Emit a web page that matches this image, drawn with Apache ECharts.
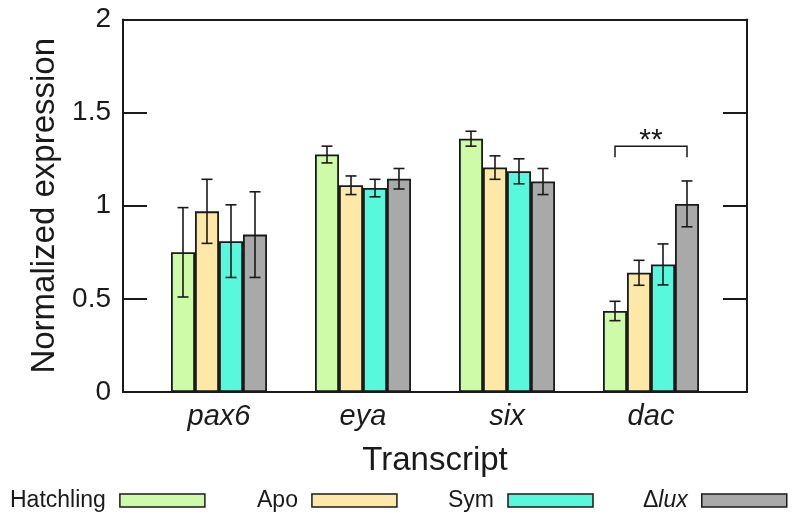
<!DOCTYPE html>
<html><head><meta charset="utf-8">
<script src="https://cdn.jsdelivr.net/npm/echarts@6/dist/echarts.min.js"></script>
<style>html,body{margin:0;padding:0;background:#fff}#c{width:800px;height:522px}</style>
</head><body><div id="c"></div>
<script>
// ---- data ----
const categories = ['pax6', 'eya', 'six', 'dac'];
const seriesNames = ['Hatchling', 'Apo', 'Sym', 'Δlux'];
const hatchling    = [0.75, 1.275, 1.36, 0.435];
const hatchlingErr = [0.24, 0.045, 0.04, 0.052];
const apo          = [0.97, 1.11, 1.205, 0.64];
const apoErr       = [0.172, 0.05, 0.063, 0.067];
const sym          = [0.81, 1.095, 1.185, 0.685];
const symErr       = [0.195, 0.047, 0.067, 0.11];
const dlux         = [0.845, 1.145, 1.13, 1.01];
const dluxErr      = [0.23, 0.055, 0.07, 0.123];
const yTicks = [0, 0.5, 1, 1.5, 2];
const sigCategory = 3;
const sigFromSeries = 0, sigToSeries = 3;
const sigTop = 1.32, sigDrop = 1.26;
const sigLabel = '**';

// ---- style ----
const FONT = '"Liberation Sans", Arial, Helvetica, sans-serif';
const colors = ['#cdfba8', '#fde8a7', '#57f8db', '#a9a9a9'];
const INK = '#1a1a1a';
const BAR_W = 24;
const values = [hatchling, apo, sym, dlux];
const errs = [hatchlingErr, apoErr, symErr, dluxErr];
const legendLeft = [10, 257, 448, 643];

const barSeries = seriesNames.map((n, k) => ({
  name: n, type: 'bar', xAxisIndex: 2, yAxisIndex: 2,
  barWidth: BAR_W, barGap: '0%',
  itemStyle: { color: colors[k], borderColor: INK, borderWidth: 1.8 },
  data: values[k], z: 2
}));

function errRender(k) {
  return function (params, api) {
    const c = api.value(0);
    const lo = api.coord([c, api.value(1)]);
    const hi = api.coord([c, api.value(2)]);
    const cx = lo[0] + (k - 1.5) * BAR_W;
    const cap = 5.5;
    const st = { stroke: INK, lineWidth: 1.6 };
    return { type: 'group', children: [
      { type: 'line', shape: { x1: cx, y1: hi[1], x2: cx, y2: lo[1] }, style: st },
      { type: 'line', shape: { x1: cx - cap, y1: hi[1], x2: cx + cap, y2: hi[1] }, style: st },
      { type: 'line', shape: { x1: cx - cap, y1: lo[1], x2: cx + cap, y2: lo[1] }, style: st }
    ]};
  };
}
const errSeries = seriesNames.map((n, k) => ({
  type: 'custom', xAxisIndex: 2, yAxisIndex: 2, z: 5,
  renderItem: errRender(k),
  data: categories.map((_, i) => [i, values[k][i] - errs[k][i], values[k][i] + errs[k][i]])
}));

const sigSeries = {
  type: 'custom', xAxisIndex: 2, yAxisIndex: 2, z: 6,
  renderItem: function (params, api) {
    const c = api.value(0);
    const top = api.coord([c, api.value(1)]);
    const drop = api.coord([c, api.value(2)]);
    const x1 = top[0] + (sigFromSeries - 1.5) * BAR_W;
    const x2 = top[0] + (sigToSeries - 1.5) * BAR_W;
    return { type: 'group', children: [
      { type: 'polyline', shape: { points: [[x1, drop[1]], [x1, top[1]], [x2, top[1]], [x2, drop[1]]] },
        style: { stroke: INK, lineWidth: 1.5, fill: null } },
      { type: 'text', x: (x1 + x2) / 2, y: top[1] + 10,
        style: { text: sigLabel, fontSize: 30, fontFamily: FONT, fill: INK, align: 'center', verticalAlign: 'bottom' } }
    ]};
  },
  data: [[sigCategory, sigTop, sigDrop]]
};

const frameLine = { show: true, onZero: false, lineStyle: { color: INK, width: 2 } };

const option = {
  animation: false,
  backgroundColor: '#fff',
  textStyle: { fontFamily: FONT },
  grid: [
    { left: 123, right: 53, top: 19.5, bottom: 130 },
    { left: 147, right: 77, top: 19.5, bottom: 130 }
  ],
  xAxis: [
    { gridIndex: 0, type: 'value', min: 0, max: 1, position: 'bottom',
      axisLine: frameLine, axisTick: { show: false }, axisLabel: { show: false }, splitLine: { show: false },
      name: 'Transcript', nameLocation: 'middle', nameGap: 52,
      nameTextStyle: { fontSize: 33, color: INK, fontFamily: FONT } },
    { gridIndex: 0, type: 'value', min: 0, max: 1, position: 'top',
      axisLine: frameLine, axisTick: { show: false }, axisLabel: { show: false }, splitLine: { show: false } },
    { gridIndex: 1, type: 'category', data: categories,
      axisLine: { show: false }, axisTick: { show: false }, splitLine: { show: false },
      axisLabel: { fontSize: 29, fontStyle: 'italic', color: INK, margin: 10, fontFamily: FONT } }
  ],
  yAxis: [
    { gridIndex: 0, type: 'value', min: yTicks[0], max: yTicks[yTicks.length - 1], interval: yTicks[1] - yTicks[0],
      position: 'left', axisLine: frameLine,
      axisTick: { show: true, inside: true, length: 24, lineStyle: { color: INK, width: 2 } },
      axisLabel: { fontSize: 28, color: INK, margin: 12, fontFamily: FONT },
      splitLine: { show: false },
      name: 'Normalized expression', nameLocation: 'middle', nameGap: 62,
      nameTextStyle: { fontSize: 33, color: INK, fontFamily: FONT } },
    { gridIndex: 0, type: 'value', min: yTicks[0], max: yTicks[yTicks.length - 1], interval: yTicks[1] - yTicks[0],
      position: 'right', axisLine: frameLine,
      axisTick: { show: true, inside: true, length: 24, lineStyle: { color: INK, width: 2 } },
      axisLabel: { show: false }, splitLine: { show: false } },
    { gridIndex: 1, type: 'value', min: yTicks[0], max: yTicks[yTicks.length - 1],
      show: false, splitLine: { show: false } }
  ],
  legend: seriesNames.map((n, k) => ({
    data: [n], left: legendLeft[k], top: 489, padding: 0,
    icon: 'rect', itemWidth: 85, itemHeight: 13, align: 'right',
    itemStyle: { borderColor: INK, borderWidth: 1.5 },
    formatter: name => name === 'Δlux' ? '{n|Δ}{i|lux}' : name,
    textStyle: { fontSize: 23, color: INK, fontFamily: FONT, padding: [0, 9, 0, 0],
      rich: { n: { fontSize: 23, fontFamily: FONT, color: INK }, i: { fontSize: 23, fontStyle: 'italic', fontFamily: FONT, color: INK } } }
  })),
  series: [...barSeries, ...errSeries, sigSeries]
};

const chart = echarts.init(document.getElementById('c'), null, { renderer: 'canvas' });
chart.setOption(option);
</script>
</body></html>
